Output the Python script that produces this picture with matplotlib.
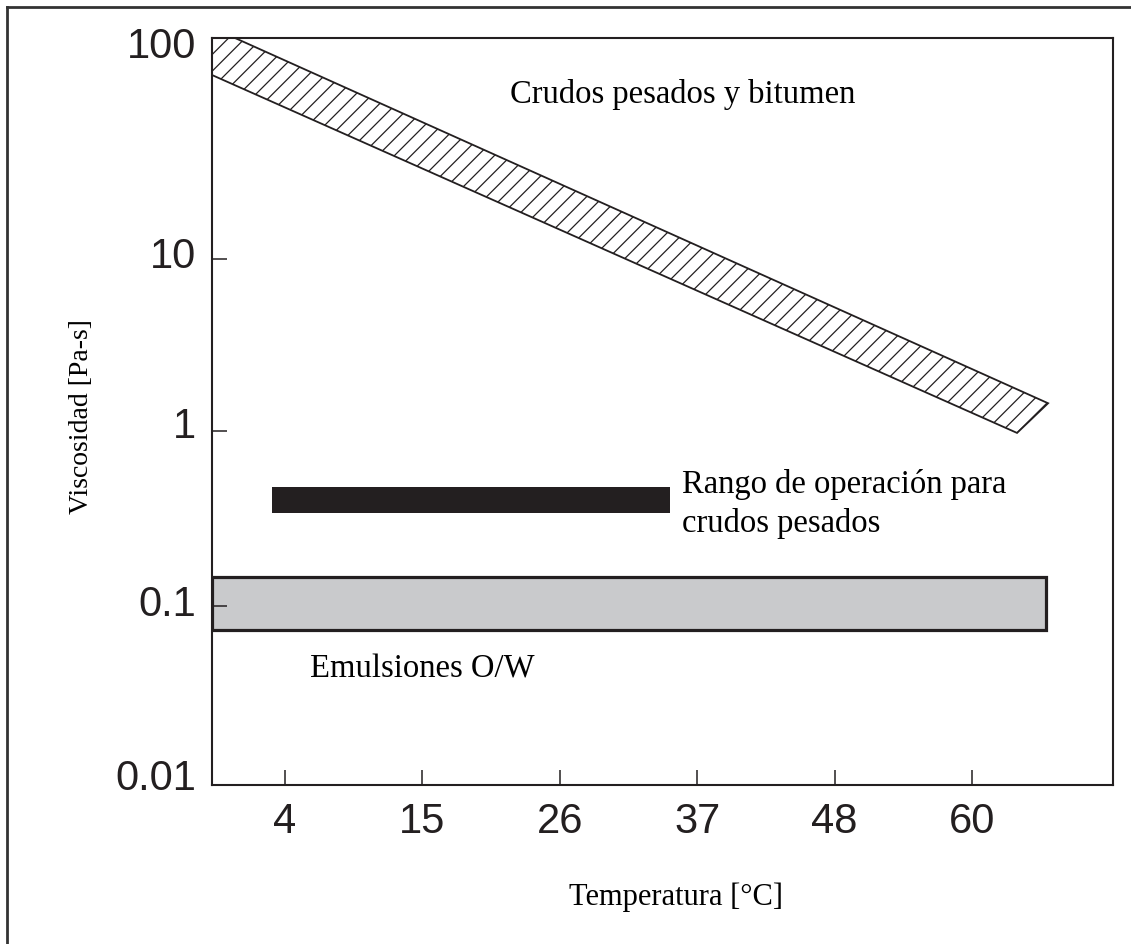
import numpy as np
import matplotlib
matplotlib.use("Agg")
import matplotlib.pyplot as plt
import matplotlib.transforms as mtransforms
from matplotlib.patches import Polygon, Rectangle
from matplotlib.lines import Line2D
from matplotlib.ticker import FixedLocator, FixedFormatter, NullLocator

# ---------------- data ----------------
# x ticks: 40..140 °F expressed in °C, labelled as in the source
temp_ticks = [4.44, 15.56, 26.67, 37.78, 48.89, 60.0]
temp_labels = ["4", "15", "26", "37", "48", "60"]
visc_ticks = [0.01, 0.1, 1, 10, 100]
visc_labels = ["0.01", "0.1", "1", "10", "100"]

# heavy crude & bitumen band (temperature °C, viscosity Pa-s)
band_temp = [-1.46, 0.40, 66.15, 63.64, -1.46]
band_visc = [100.0, 100.0, 1.45, 0.975, 68.0]

# operating range for heavy crudes
op_temp = [3.39, 35.58]
op_visc = [0.34, 0.479]

# O/W emulsions
emul_temp = [-1.46, 66.02]
emul_visc = [0.0730, 0.1456]

x_limits = (-1.46, 71.40)
y_limits = (0.01, 100)

# non-uniform decade spacing of the original drawing
decade_logs = [-300, -2, -1, 0, 1, 2, 300]
decade_pos = [-298 * 179.0, 0.0, 179.0, 354.0, 526.0, 747.0, 747.0 + 298 * 221.0]


def fwd(y):
    y = np.asarray(y, dtype=float)
    l = np.log10(np.where(y > 0, y, 1e-300))
    return np.interp(l, decade_logs, decade_pos)


def inv(p):
    p = np.asarray(p, dtype=float)
    return 10.0 ** np.interp(p, decade_pos, decade_logs)


INK = "#231f20"
SERIF = ["Liberation Serif", "DejaVu Serif"]
SANS = ["Liberation Sans", "DejaVu Sans"]
plt.rcParams["hatch.linewidth"] = 0.9
plt.rcParams["hatch.color"] = INK

fig = plt.figure(figsize=(11.31, 9.44), dpi=100)
ax = fig.add_axes([212 / 1131, 159 / 944, 901 / 1131, 747 / 944])
ax.set_yscale("function", functions=(fwd, inv))
ax.set_xlim(*x_limits)
ax.set_ylim(*y_limits)

# band
band = Polygon(list(zip(band_temp, band_visc)), closed=True, facecolor="white",
               edgecolor=INK, hatch="//", linewidth=1.3)
ax.add_patch(band)

# operating range bar
ax.add_patch(Rectangle((op_temp[0], op_visc[0]), op_temp[1] - op_temp[0],
                       op_visc[1] - op_visc[0], facecolor=INK, edgecolor="none"))

# emulsions bar
ax.add_patch(Rectangle((emul_temp[0], emul_visc[0]), emul_temp[1] - emul_temp[0],
                       emul_visc[1] - emul_visc[0], facecolor="#c9cacc",
                       edgecolor=INK, linewidth=2.3))

# texts
ax.text(22.64, 50.8, "Crudos pesados y bitumen", fontsize=23.5, family=SERIF,
        color="black", ha="left", va="baseline")
ax.text(36.55, 0.443, "Rango de operación para", fontsize=23.5, family=SERIF,
        color="black", ha="left", va="baseline")
ax.text(36.55, 0.265, "crudos pesados", fontsize=23.5, family=SERIF,
        color="black", ha="left", va="baseline")
ax.text(6.465, 0.0397, "Emulsiones O/W", fontsize=23.5, family=SERIF,
        color="black", ha="left", va="baseline")

fig.text(676 / 1131, (944 - 905) / 944, "Temperatura [°C]", fontsize=22,
         family=SERIF, ha="center", va="baseline")
fig.text(82 / 1131, 1 - 417 / 944, "Viscosidad [Pa-s]", fontsize=20,
         family=SERIF, ha="center", va="center", rotation=90)

# axes styling
for s in ax.spines.values():
    s.set_linewidth(1.5)
    s.set_color(INK)

ax.xaxis.set_major_locator(FixedLocator(temp_ticks))
ax.xaxis.set_major_formatter(FixedFormatter(temp_labels))
ax.yaxis.set_major_locator(FixedLocator(visc_ticks))
ax.yaxis.set_major_formatter(FixedFormatter(visc_labels))
ax.xaxis.set_minor_locator(NullLocator())
ax.yaxis.set_minor_locator(NullLocator())
ax.tick_params(axis="both", direction="in", length=10.8, width=1.1, color=INK,
               labelsize=30, labelcolor=INK)
ax.tick_params(axis="x", pad=12.5)
ax.tick_params(axis="y", pad=11.5)
for lab in ax.get_xticklabels() + ax.get_yticklabels():
    lab.set_family(SANS)

# the printed y labels sit slightly off their tick marks in the source
label_shift_px = [11, 6, 8, 6, -5]
for lab, dy in zip(ax.get_yticklabels(), label_shift_px):
    lab.set_transform(lab.get_transform() +
                      mtransforms.ScaledTranslation(0, dy / 100, fig.dpi_scale_trans))

# outer frame (left and top edges visible)
fig.add_artist(Line2D([7 / 1131, 7 / 1131], [0, 1 - 7 / 944],
                      transform=fig.transFigure, color="#333333", linewidth=2))
fig.add_artist(Line2D([7 / 1131, 1], [1 - 7 / 944, 1 - 7 / 944],
                      transform=fig.transFigure, color="#333333", linewidth=2))

fig.savefig("out.png", dpi=100, facecolor="white")
